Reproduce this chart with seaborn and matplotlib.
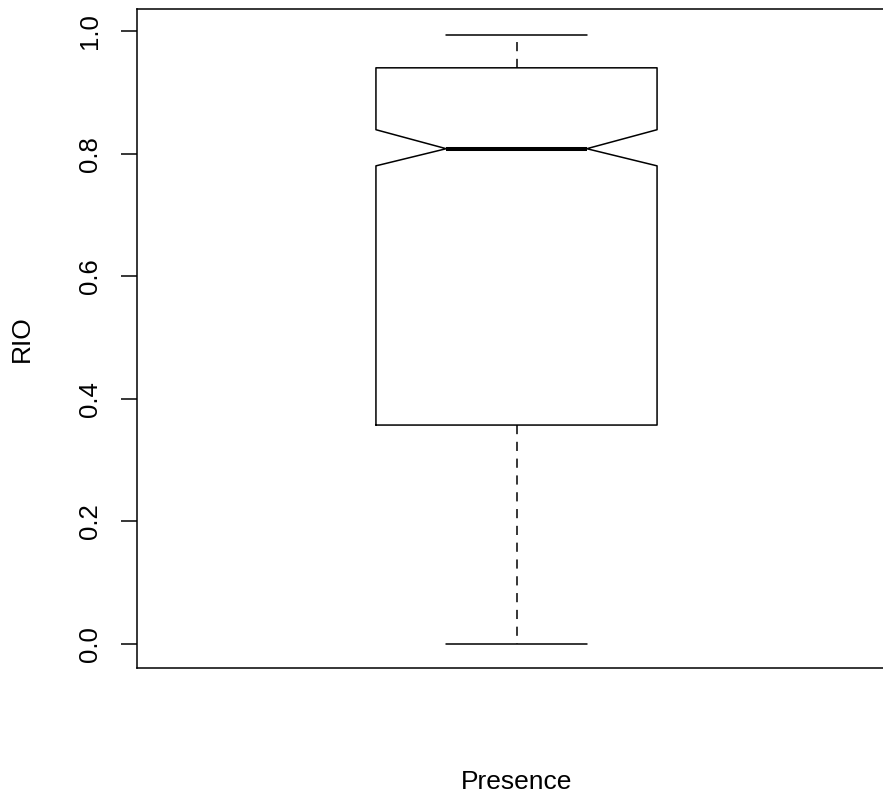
import matplotlib
matplotlib.use("Agg")
import matplotlib.pyplot as plt
import seaborn as sns

# ---- data ----
category = ["Presence"]
whisker_low = [0.0]
q1 = [0.357]
median = [0.808]
q3 = [0.940]
whisker_high = [0.994]
notch_low = [0.780]
notch_high = [0.839]
y_ticks = [0.0, 0.2, 0.4, 0.6, 0.8, 1.0]
y_label = "RIO"

sns.set_style("white")
plt.rcParams["font.family"] = ["Liberation Sans", "DejaVu Sans"]
plt.rcParams["text.color"] = "black"
plt.rcParams["axes.labelcolor"] = "black"
plt.rcParams["ytick.color"] = "black"

W, H = 883, 798
fig = plt.figure(figsize=(W / 100, H / 100), dpi=100)
left, right, top, bottom = 137, 896, 9, 668
ax = fig.add_axes([left / W, 1 - bottom / H, (right - left) / W, (bottom - top) / H])

stats = []
for i, name in enumerate(category):
    stats.append(dict(label=name, whislo=whisker_low[i], q1=q1[i], med=median[i],
                      q3=q3[i], whishi=whisker_high[i], cilo=notch_low[i],
                      cihi=notch_high[i], fliers=[]))

lw = 1.1
ax.bxp(stats, positions=[0], widths=[0.40], shownotches=True, showfliers=False,
       manage_ticks=False,
       boxprops=dict(color="black", linewidth=lw),
       medianprops=dict(color="black", linewidth=2.9, solid_capstyle="butt"),
       whiskerprops=dict(color="black", linewidth=lw, linestyle=(0, (6, 5))),
       capprops=dict(color="black", linewidth=lw))

ax.set_xlim(-0.54, 0.54)
ax.set_ylim(-0.0395, 1.036)
ax.set_xticks([])
ax.set_yticks(y_ticks)
ax.set_yticklabels([f"{t:.1f}" for t in y_ticks], rotation=90, va="center")
ax.tick_params(axis="y", length=11.5, width=lw, color="black", pad=14,
               labelsize=18.5, labelcolor="black", left=True)

for side in ["left", "bottom", "top"]:
    ax.spines[side].set_visible(True)
    ax.spines[side].set_color("black")
    ax.spines[side].set_linewidth(lw)

ax.set_xlabel(category[0], fontsize=19, color="black")
ax.set_ylabel(y_label, fontsize=19, color="black")
ax.xaxis.set_label_coords(0.5, -0.155)
ax.yaxis.set_label_coords(-0.136, 0.5)

fig.savefig("out.png", dpi=100)
